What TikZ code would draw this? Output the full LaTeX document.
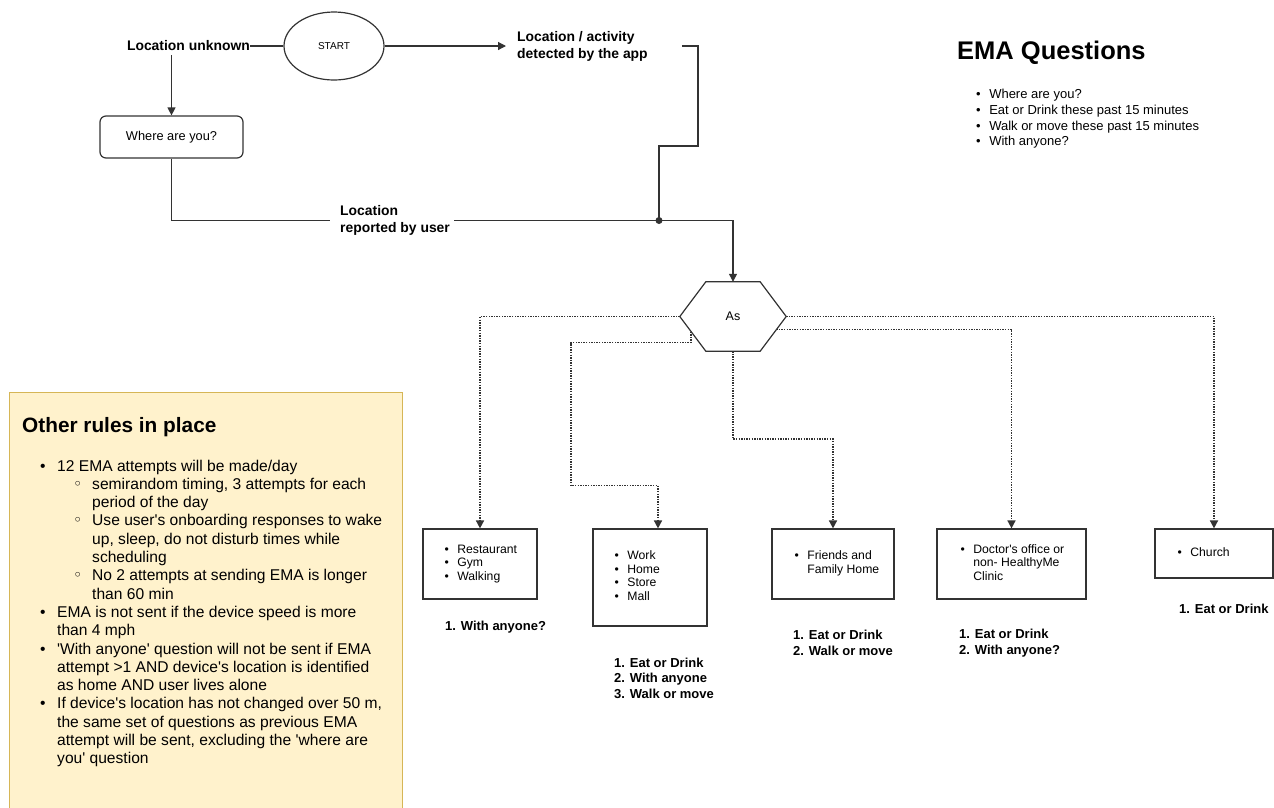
\documentclass[tikz,border=0pt]{standalone}
\usepackage{fontspec}
\setmainfont{Liberation Sans}
\newfontfamily\symfont{DejaVu Sans}
\usepackage{tikz}
\usetikzlibrary{shapes.geometric,arrows.meta}

\definecolor{notefill}{HTML}{FFF2CC}
\definecolor{noteline}{HTML}{D6B656}
\definecolor{ink}{HTML}{333333}

\newcommand{\blist}[1]{{\setlength{\tabcolsep}{0pt}\begin{tabular}{@{}l@{\hspace{8.5pt}}l@{}}#1\end{tabular}}}
\newcommand{\subdot}{\hspace*{16pt}{\symfont ◦}}
\newcommand{\wide}[1]{\multicolumn{2}{@{}l@{}}{#1}}
\newcommand{\sq}{\textquotesingle}

\tikzset{
  flow/.style={draw=ink, line width=1.2pt},
  arr/.style={-{Triangle[length=8pt,width=8pt]}},
  dotarrow/.style={draw=ink, line width=1.6pt, dash pattern=on 1.4pt off 1.2pt, -{Triangle[length=8pt,width=8pt]}},
  flowlbl/.style={font=\bfseries\fontsize{13.9}{17}\selectfont, align=left, inner sep=0pt},
  anslbl/.style={font=\bfseries\fontsize{13}{15.5}\selectfont, align=left, inner sep=0pt, anchor=west},
  placebox/.style={draw=ink, line width=1.2pt, inner sep=0pt},
  placetxt/.style={font=\fontsize{12.2}{13.5}\selectfont, inner sep=0pt, anchor=west}
}

\begin{document}
\begin{tikzpicture}[x=1pt, y=-1pt]
\useasboundingbox (0,0) rectangle (1274,807);

\node[flowlbl, anchor=east] (lu) at (250,46) {Location unknown};
\node[flow, ellipse, minimum width=100, minimum height=68, font=\fontsize{10}{12}\selectfont] (start) at (334,46) {START};
\node[flowlbl, anchor=west] (la) at (517,46) {Location / activity\\detected by the app};
\node[flow, rounded corners=6pt, minimum width=143, minimum height=42, font=\fontsize{12.8}{15}\selectfont] (wb) at (171.5,137) {Where are you?};
\node[flowlbl, anchor=west] (lr) at (340,220.5) {Location\\reported by user};
\coordinate (jn) at (659,220.5);
\coordinate (bend) at (698,146);

\draw[flow] (lu.east) -- (start.west);
\draw[flow,arr] (start.east) -- ([xshift=-11pt]la.west);
\draw[flow,arr] ([yshift=-4pt]lu.south -| wb.north) -- (wb.north);
\draw[flow] (wb.south) |- ([xshift=-10pt]lr.west);
\draw[flow] ([xshift=4pt]lr.east) -- (jn);
\draw[flow] ([xshift=34pt]la.east) -| (bend) -| (jn);
\fill[ink] (jn) circle (3.5pt);

\node[minimum width=106, minimum height=69, inner sep=0pt, font=\fontsize{12.5}{14}\selectfont] (as) at (733,316.5) {As};
\draw[flow] (as.west) -- ([xshift=26pt]as.north west) -- ([xshift=-26pt]as.north east) -- (as.east)
  -- ([xshift=-26pt]as.south east) -- ([xshift=26pt]as.south west) -- cycle;
\draw[flow,arr] (jn) -| (as.north);

\node[placebox, minimum width=114, minimum height=70] (b1) at (480,564) {};
\node[placebox, minimum width=114, minimum height=97] (b2) at (650,577.5) {};
\node[placebox, minimum width=122, minimum height=70] (b3) at (833,564) {};
\node[placebox, minimum width=149, minimum height=70] (b4) at (1011.5,564) {};
\node[placebox, minimum width=118, minimum height=49] (b5) at (1214,553.5) {};

\node[placetxt] (t1) at ([xshift=22pt]b1.west) {\blist{\textbullet & Restaurant\\ \textbullet & Gym\\ \textbullet & Walking}};
\node[placetxt] (t2) at ([xshift=22pt]b2.west) {\blist{\textbullet & Work\\ \textbullet & Home\\ \textbullet & Store\\ \textbullet & Mall}};
\node[placetxt] (t3) at ([xshift=23pt]b3.west) {\blist{\textbullet & Friends and\\ & Family Home}};
\node[placetxt] (t4) at ([xshift=24pt]b4.west) {\blist{\textbullet & Doctor\sq s office or\\ & non- HealthyMe\\ & Clinic}};
\node[placetxt] (t5) at ([xshift=23pt]b5.west) {\blist{\textbullet & Church}};

\draw[dotarrow] (as.west) -| (b1.north);
\draw[dotarrow] ([shift={(11,15)}]as.west) -- ++(0,11) -- ++(-120,0) -- ++(0,143) -| ([xshift=8pt]b2.north);
\draw[dotarrow] (as.south) -- ++(0,88) -| (b3.north);
\draw[dotarrow] ([shift={(-10,13)}]as.east) -| (b4.north);
\draw[dotarrow] (as.east) -| (b5.north);

\node[anslbl] (q1) at (445,627) {1. With anyone?};
\node[anslbl] (q2) at (614,678) {1. Eat or Drink\\2. With anyone\\3. Walk or move};
\node[anslbl] (q3) at (793,643) {1. Eat or Drink\\2. Walk or move};
\node[anslbl] (q4) at (959,643) {1. Eat or Drink\\2. With anyone?};
\node[anslbl] (q5) at (1179,609) {1. Eat or Drink};

\node[font=\bfseries\fontsize{25.5}{30}\selectfont, inner sep=0pt, anchor=west] (emat) at (957,53) {EMA Questions};
\node[font=\fontsize{13}{15.7}\selectfont, inner sep=0pt, anchor=north west] (emal) at (976,87.5)
  {\blist{\textbullet & Where are you?\\ \textbullet & Eat or Drink these past 15 minutes\\
   \textbullet & Walk or move these past 15 minutes\\ \textbullet & With anyone?}};

\node[draw=noteline, fill=notefill, line width=1pt, anchor=north west, minimum width=393, minimum height=430] (note) at (9,392) {};
\node[font=\bfseries\fontsize{20.8}{25}\selectfont, inner sep=0pt, anchor=west] (notet) at (22,427) {Other rules in place};
\node[font=\fontsize{15.6}{18.3}\selectfont, inner sep=0pt, anchor=north west] (notel) at (40,458)
  {{\setlength{\tabcolsep}{0pt}\begin{tabular}{@{}p{17pt}p{35pt}l@{}}
  \textbullet & \wide{12 EMA attempts will be made/day}\\
  & \subdot & semirandom timing, 3 attempts for each\\
  & & period of the day\\
  & \subdot & Use user\sq s onboarding responses to wake\\
  & & up, sleep, do not disturb times while\\
  & & scheduling\\
  & \subdot & No 2 attempts at sending EMA is longer\\
  & & than 60 min\\
  \textbullet & \wide{EMA is not sent if the device speed is more}\\
  & \wide{than 4 mph}\\
  \textbullet & \wide{\sq With anyone\sq{} question will not be sent if EMA}\\
  & \wide{attempt >1 AND device\sq s location is identified}\\
  & \wide{as home AND user lives alone}\\
  \textbullet & \wide{If device\sq s location has not changed over 50 m,}\\
  & \wide{the same set of questions as previous EMA}\\
  & \wide{attempt will be sent, excluding the \sq where are}\\
  & \wide{you\sq{} question}
  \end{tabular}}};
\end{tikzpicture}
\end{document}
